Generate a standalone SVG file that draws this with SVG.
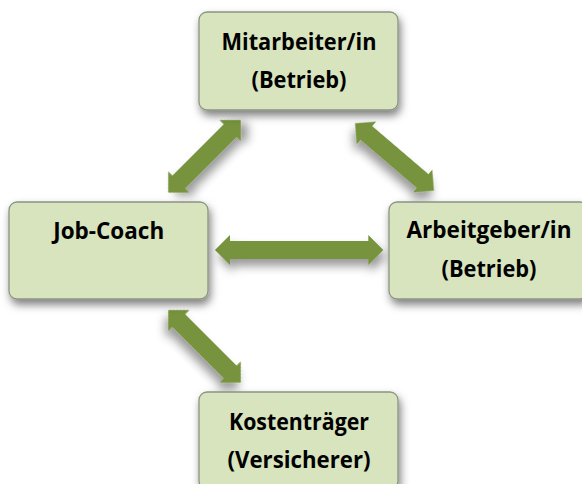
<svg xmlns="http://www.w3.org/2000/svg" width="582" height="484" viewBox="0 0 582 484">
  <defs>
    <filter id="boxShadow" x="-20%" y="-20%" width="140%" height="150%">
      <feDropShadow dx="2" dy="5" stdDeviation="4.5" flood-color="#000" flood-opacity="0.5"/>
    </filter>
    <filter id="arrowShadow" x="-30%" y="-30%" width="160%" height="180%">
      <feDropShadow dx="3" dy="7" stdDeviation="5" flood-color="#000" flood-opacity="0.4"/>
    </filter>
  </defs>
  <style>
    .box { fill: #D7E4BD; stroke: #8B9382; stroke-width: 1.3; filter: url(#boxShadow); }
    .arrow { fill: #77933C; filter: url(#arrowShadow); }
    .lbl { font-family: "Open Sans", Lato, "Liberation Sans", sans-serif; font-weight: 700; font-size: 23px; fill: #000; text-anchor: middle; }
  </style>

  <g id="connectors">
    <path class="arrow" transform="translate(299.15,250)" d="M-84.15,0 L-69.15,-15 L-69.15,-9 L69.15,-9 L69.15,-15 L84.15,0 L69.15,15 L69.15,9 L-69.15,9 L-69.15,15 Z"/>
    <path class="arrow" transform="translate(204.5,156.3) rotate(-45)" d="M-51.3,0 L-36.3,-15 L-36.3,-9 L36.3,-9 L36.3,-15 L51.3,0 L36.3,15 L36.3,9 L-36.3,9 L-36.3,15 Z"/>
    <path class="arrow" transform="translate(394.5,157) rotate(40.5)" d="M-51.95,0 L-36.95,-15 L-36.95,-9 L36.95,-9 L36.95,-15 L51.95,0 L36.95,15 L36.95,9 L-36.95,9 L-36.95,15 Z"/>
    <path class="arrow" transform="translate(204.5,346.3) rotate(45)" d="M-51.3,0 L-36.3,-15 L-36.3,-9 L36.3,-9 L36.3,-15 L51.3,0 L36.3,15 L36.3,9 L-36.3,9 L-36.3,15 Z"/>
  </g>

  <g id="mitarbeiter">
    <rect class="box" x="199" y="12" width="199" height="98" rx="8"/>
    <text class="lbl" x="299" y="50" textLength="155" lengthAdjust="spacingAndGlyphs">Mitarbeiter/in</text>
    <text class="lbl" x="299" y="88" textLength="95" lengthAdjust="spacingAndGlyphs">(Betrieb)</text>
  </g>

  <g id="jobcoach">
    <rect class="box" x="9" y="202" width="199" height="97" rx="8"/>
    <text class="lbl" x="108.7" y="238.5" textLength="111" lengthAdjust="spacingAndGlyphs">Job-Coach</text>
  </g>

  <g id="arbeitgeber">
    <rect class="box" x="389" y="202" width="199" height="97" rx="8"/>
    <text class="lbl" x="489" y="237.5" textLength="165" lengthAdjust="spacingAndGlyphs">Arbeitgeber/in</text>
    <text class="lbl" x="489" y="277" textLength="95" lengthAdjust="spacingAndGlyphs">(Betrieb)</text>
  </g>

  <g id="kostentraeger">
    <rect class="box" x="199" y="392" width="199" height="97" rx="8"/>
    <text class="lbl" x="299" y="429.5" textLength="140" lengthAdjust="spacingAndGlyphs">Kostenträger</text>
    <text class="lbl" x="299" y="468" textLength="143" lengthAdjust="spacingAndGlyphs">(Versicherer)</text>
  </g>
</svg>
